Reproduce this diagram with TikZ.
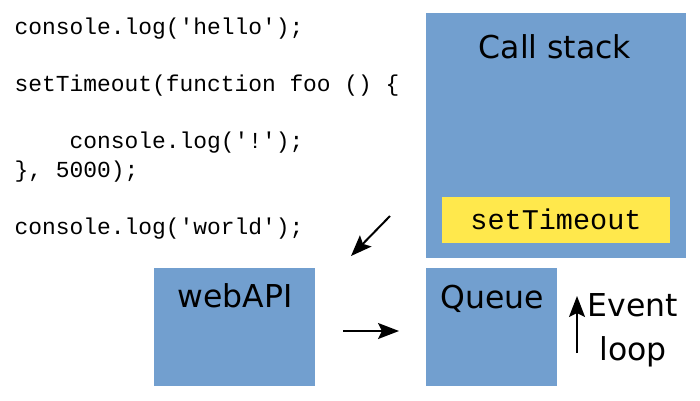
\documentclass[tikz,border=0pt]{standalone}
\usepackage{fontspec}
\setmainfont{DejaVu Sans}
\setmonofont{Liberation Mono}
\usetikzlibrary{arrows.meta}
\definecolor{boxblue}{HTML}{729FCF}
\definecolor{boxyellow}{HTML}{FFE84C}
\begin{document}
\begin{tikzpicture}[x=1pt,y=-1pt,
  box/.style={fill=boxblue,draw=none,inner sep=0pt},
  label/.style={font=\fontsize{31.5}{44}\selectfont,inner sep=0pt,anchor=base},
  arr/.style={line width=2pt,-{Stealth[length=21pt,width=16pt,inset=4pt]}}]
\useasboundingbox (0,0) rectangle (700,400);
% boxes
\node[box,minimum width=260pt,minimum height=245pt] (callstack) at (556,135.5) {};
\node[fill=boxyellow,inner sep=0pt,minimum width=228pt,minimum height=46pt] (yellow) at (556,220) {};
\node[box,minimum width=161pt,minimum height=118pt] (webapi) at (234.5,327) {};
\node[box,minimum width=131pt,minimum height=118pt] (queue) at (491.5,327) {};
% labels
\node[label] (cstext) at (555,58) {Call stack};
\node[label] (webtext) at (235,307) {webAPI};
\node[label] (qtext) at (492,308) {Queue};
\node[label,align=center] (evtext) at (633,360) {Event\\loop};
\node[font=\ttfamily\fontsize{28.5}{30}\selectfont,inner sep=0pt,anchor=base] (sttext) at (556,229) {setTimeout};
% code
\node[font=\ttfamily\fontsize{22.9}{28.5}\selectfont,inner sep=0pt,anchor=base west,align=left] (code) at (14.5,234)
{console.log('hello');\\[28.5pt]
setTimeout(function foo () \{\\[28.5pt]
\ \ \ \ console.log('!');\\
\}, 5000);\\[28.5pt]
console.log('world');};
% arrows
\coordinate (d1) at (390,216);
\coordinate (d2) at (351,256);
\draw[arr] (d1) -- (d2);
\coordinate (r1) at (343,331);
\coordinate (r2) at (399,331);
\draw[arr] (r1) -- (r2);
\coordinate (e1) at (577,353);
\coordinate (e2) at (577,296);
\draw[arr] (e1) -- (e2);
\end{tikzpicture}
\end{document}
